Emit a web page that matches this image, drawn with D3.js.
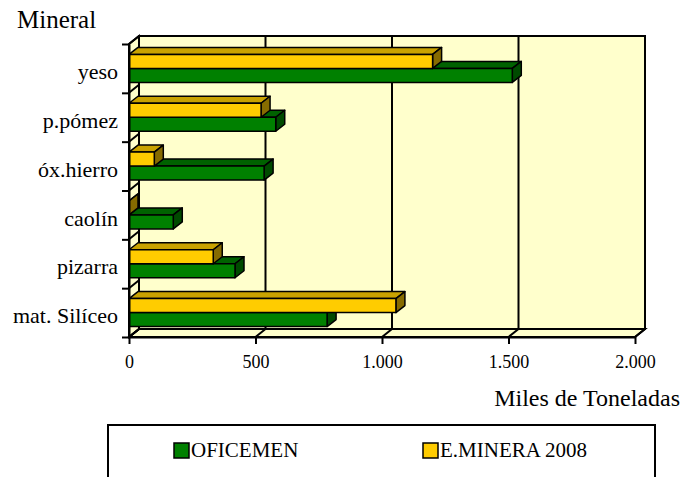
<!DOCTYPE html>
<html>
<head>
<meta charset="utf-8">
<script src="https://cdn.jsdelivr.net/npm/d3@7"></script>
<style>
  body { margin: 0; background: #fff; }
</style>
</head>
<body>
<div id="chart"></div>
<script>
// values (miles de toneladas)
const categories = ['yeso', 'p.pómez', 'óx.hierro', 'caolín', 'pizarra', 'mat. Silíceo'];
const oficemen = [1515, 580, 534, 175, 419, 783];
const eMinera = [1200, 522, 100, 0, 333, 1055];
const seriesNames = ['E.MINERA 2008', 'OFICEMEN'];
const legendNames = ['OFICEMEN', 'E.MINERA 2008'];
const xTicks = [0, 500, 1000, 1500, 2000];

const W = 684, H = 477;
const plot = { left: 129, right: 635, top: 44, bottom: 337 };
const depth = { dx: 10, dy: 8 };
const barDepth = { dx: 9, dy: 7 };
const serif = '"Liberation Serif", "DejaVu Serif", serif';

const colors = {
  'OFICEMEN': { front: '#008000', top: '#006200', side: '#004a00' },
  'E.MINERA 2008': { front: '#ffcc00', top: '#c9a200', side: '#866b00' },
};

const svg = d3
  .select('#chart')
  .append('svg')
  .attr('width', W)
  .attr('height', H)
  .attr('font-family', serif);

const x = d3.scaleLinear().domain([0, 2000]).range([plot.left, plot.right]);
const y = d3
  .scaleBand()
  .domain(categories)
  .range([plot.top, plot.bottom])
  .paddingInner(0.427)
  .paddingOuter(0.2135);
const ySub = d3.scaleBand().domain(seriesNames).range([0, y.bandwidth()]);
const yIdx = d3.scaleLinear().domain([0, categories.length]).range([plot.top, plot.bottom]);

const pts = (arr) => arr.map((p) => p.join(',')).join(' ');

// walls
const walls = svg.append('g').attr('stroke', '#000').attr('stroke-width', 2).attr('fill', '#ffffcc');
walls
  .append('rect')
  .attr('x', plot.left + depth.dx)
  .attr('y', plot.top - depth.dy)
  .attr('width', plot.right - plot.left)
  .attr('height', plot.bottom - plot.top);
walls
  .append('polygon')
  .attr('points', pts([
    [plot.left, plot.bottom], [plot.right, plot.bottom],
    [plot.right + depth.dx, plot.bottom - depth.dy], [plot.left + depth.dx, plot.bottom - depth.dy],
  ]));
walls
  .append('polygon')
  .attr('points', pts([
    [plot.left, plot.top], [plot.left + depth.dx, plot.top - depth.dy],
    [plot.left + depth.dx, plot.bottom - depth.dy], [plot.left, plot.bottom],
  ]));

// gridlines on back wall, floor and side wall
walls
  .selectAll('.grid')
  .data(xTicks.slice(1, -1))
  .enter()
  .append('line')
  .attr('x1', (d) => x(d) + depth.dx)
  .attr('x2', (d) => x(d) + depth.dx)
  .attr('y1', plot.top - depth.dy)
  .attr('y2', plot.bottom - depth.dy);
walls
  .selectAll('.floor')
  .data(xTicks)
  .enter()
  .append('line')
  .attr('x1', (d) => x(d))
  .attr('x2', (d) => x(d) + depth.dx)
  .attr('y1', plot.bottom)
  .attr('y2', plot.bottom - depth.dy);
walls
  .selectAll('.side')
  .data(d3.range(categories.length + 1))
  .enter()
  .append('line')
  .attr('x1', plot.left)
  .attr('x2', plot.left + depth.dx)
  .attr('y1', (d) => yIdx(d))
  .attr('y2', (d) => yIdx(d) - depth.dy);

// 3d bars, drawn bottom to top so upper faces overlap correctly
const bars = [];
categories.forEach((c, i) => {
  bars.push({ cat: c, series: 'OFICEMEN', value: oficemen[i] });
  bars.push({ cat: c, series: 'E.MINERA 2008', value: eMinera[i] });
});
bars.sort((a, b) => (y(b.cat) + ySub(b.series)) - (y(a.cat) + ySub(a.series)));

const barG = svg.append('g').attr('stroke', '#000').attr('stroke-width', 1.5).attr('stroke-linejoin', 'round');
bars.forEach((d) => {
  const x0 = x(0), x1 = x(d.value);
  const y0 = y(d.cat) + ySub(d.series), h = ySub.bandwidth();
  const { dx, dy } = barDepth;
  const g = barG.append('g');
  g.append('polygon')
    .attr('fill', colors[d.series].top)
    .attr('points', pts([[x0, y0], [x0 + dx, y0 - dy], [x1 + dx, y0 - dy], [x1, y0]]));
  g.append('polygon')
    .attr('fill', colors[d.series].side)
    .attr('points', pts([[x1, y0], [x1 + dx, y0 - dy], [x1 + dx, y0 + h - dy], [x1, y0 + h]]));
  g.append('rect')
    .attr('fill', colors[d.series].front)
    .attr('x', x0)
    .attr('y', y0)
    .attr('width', x1 - x0)
    .attr('height', h);
});

// axes
const locale = d3.formatLocale({ decimal: ',', thousands: '.', grouping: [3], currency: ['', '€'] });
const xAxis = svg
  .append('g')
  .attr('transform', `translate(0,${plot.bottom})`)
  .call(d3.axisBottom(x).tickValues(xTicks).tickSize(7).tickSizeOuter(0).tickPadding(11).tickFormat(locale.format(',')));
const yAxis = svg
  .append('g')
  .attr('transform', `translate(${plot.left},0)`)
  .call(d3.axisLeft(yIdx).tickValues(d3.range(categories.length + 1)).tickSize(7).tickSizeOuter(0).tickFormat(''));
[xAxis, yAxis].forEach((a) => {
  a.attr('font-family', serif);
  a.selectAll('path, line').attr('stroke', '#000').attr('stroke-width', 2);
});
xAxis.attr('font-size', 18).selectAll('text').attr('fill', '#000');

svg
  .append('g')
  .selectAll('text')
  .data(categories)
  .enter()
  .append('text')
  .attr('x', 118)
  .attr('y', (d) => y(d) + y.bandwidth() / 2 + 3)
  .attr('dy', '0.35em')
  .attr('text-anchor', 'end')
  .attr('font-size', 22)
  .text((d) => d);

svg.append('text').attr('x', 17).attr('y', 28).attr('font-size', 25).text('Mineral');
svg
  .append('text')
  .attr('x', 680)
  .attr('y', 406)
  .attr('text-anchor', 'end')
  .attr('font-size', 24)
  .text('Miles de Toneladas');

// legend
const legend = svg.append('g');
legend
  .append('rect')
  .attr('x', 108)
  .attr('y', 425)
  .attr('width', 547)
  .attr('height', 80)
  .attr('fill', '#fff')
  .attr('stroke', '#000')
  .attr('stroke-width', 2);
const legendX = [174, 423];
legendNames.forEach((name, i) => {
  legend
    .append('rect')
    .attr('x', legendX[i])
    .attr('y', 443)
    .attr('width', 15)
    .attr('height', 15)
    .attr('fill', colors[name].front)
    .attr('stroke', '#000')
    .attr('stroke-width', 1.5);
  legend
    .append('text')
    .attr('x', legendX[i] + 17)
    .attr('y', 457)
    .attr('font-size', 21)
    .text(name);
});
</script>
</body>
</html>
